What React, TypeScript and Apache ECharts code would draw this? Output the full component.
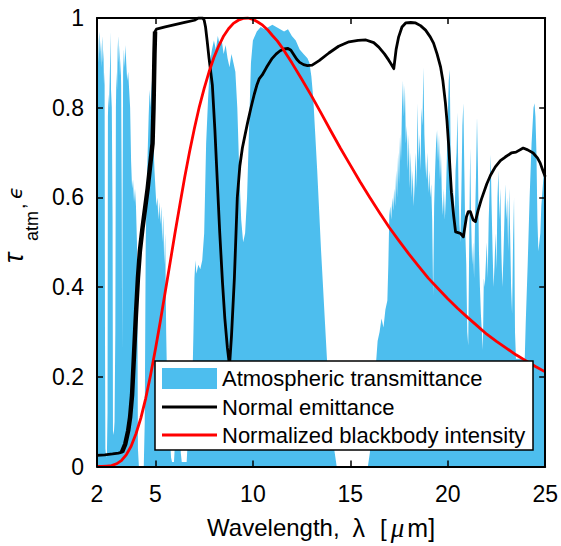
import React, { useEffect, useRef } from "react";
import * as echarts from "echarts";

// ---- data ----
const xTickValues = [2, 5, 10, 15, 20, 25];
const legendLabels = [
  "Atmospheric transmittance",
  "Normal emittance",
  "Normalized blackbody intensity",
];

// [wavelength (um), atmospheric transmittance]
const atmTransmittance: [number, number][] = [
  [2.0, 0.93], [2.03, 0.96], [2.06, 0.9], [2.09, 0.95], [2.12, 0.97], [2.15, 0.92], [2.18, 0.95], [2.21, 0.89],
  [2.24, 0.93], [2.27, 0.96], [2.3, 0.9], [2.33, 0.93], [2.36, 0.85], [2.39, 0.88], [2.41, 0.3], [2.43, 0.04],
  [2.47, 0.02], [2.51, 0.03], [2.54, 0.12], [2.56, 0.78], [2.59, 0.83], [2.62, 0.8], [2.65, 0.86], [2.68, 0.92],
  [2.7, 0.97], [2.72, 0.84], [2.76, 0.8], [2.8, 0.55], [2.82, 0.08], [2.86, 0.07], [2.9, 0.1], [2.94, 0.3],
  [2.97, 0.8], [3.0, 0.88], [3.03, 0.84], [3.06, 0.93], [3.09, 0.96], [3.12, 0.9], [3.15, 0.94], [3.18, 0.87],
  [3.21, 0.91], [3.24, 0.85], [3.27, 0.6], [3.29, 0.26], [3.31, 0.55], [3.34, 0.88], [3.38, 0.93], [3.42, 0.89],
  [3.46, 0.94], [3.5, 0.9], [3.55, 0.86], [3.6, 0.88], [3.65, 0.84], [3.7, 0.8], [3.75, 0.68], [3.8, 0.62],
  [3.85, 0.64], [3.9, 0.59], [3.95, 0.62], [4.0, 0.58], [4.05, 0.5], [4.08, 0.3], [4.1, 0.04], [4.15, 0.0],
  [4.4, 0.0], [4.45, 0.1], [4.5, 0.5], [4.55, 0.62], [4.6, 0.7], [4.65, 0.78], [4.7, 0.84], [4.75, 0.8],
  [4.8, 0.86], [4.85, 0.78], [4.9, 0.72], [4.95, 0.66], [5.0, 0.62], [5.05, 0.58], [5.1, 0.6], [5.15, 0.55],
  [5.2, 0.59], [5.25, 0.54], [5.3, 0.58], [5.35, 0.5], [5.4, 0.56], [5.45, 0.45], [5.5, 0.52], [5.55, 0.3],
  [5.6, 0.18], [5.65, 0.1], [5.7, 0.14], [5.75, 0.06], [5.8, 0.02], [5.85, 0.01], [5.95, 0.01], [6.0, 0.05],
  [6.05, 0.12], [6.1, 0.08], [6.15, 0.16], [6.2, 0.06], [6.25, 0.1], [6.3, 0.03], [6.35, 0.01], [6.6, 0.01],
  [6.65, 0.05], [6.7, 0.12], [6.75, 0.07], [6.8, 0.16], [6.85, 0.1], [6.9, 0.2], [6.95, 0.3], [7.0, 0.42],
  [7.05, 0.46], [7.1, 0.43], [7.2, 0.45], [7.3, 0.44], [7.4, 0.46], [7.5, 0.52], [7.55, 0.62], [7.6, 0.72],
  [7.7, 0.82], [7.8, 0.9], [7.9, 0.93], [8.0, 0.95], [8.1, 0.93], [8.2, 0.96], [8.3, 0.94], [8.4, 0.95],
  [8.5, 0.92], [8.6, 0.94], [8.7, 0.91], [8.8, 0.89], [8.9, 0.92], [9.0, 0.9], [9.1, 0.88], [9.2, 0.8],
  [9.3, 0.66], [9.4, 0.55], [9.5, 0.5], [9.6, 0.52], [9.7, 0.6], [9.8, 0.75], [9.9, 0.9], [10.0, 0.95],
  [10.2, 0.97], [10.4, 0.98], [10.6, 0.975], [10.8, 0.98], [11.0, 0.985], [11.2, 0.98], [11.4, 0.975], [11.6, 0.97],
  [11.8, 0.975], [12.0, 0.96], [12.2, 0.95], [12.4, 0.93], [12.6, 0.92], [12.8, 0.91], [12.9, 0.9], [13.0, 0.87],
  [13.1, 0.82], [13.2, 0.74], [13.3, 0.66], [13.4, 0.57], [13.5, 0.48], [13.6, 0.4], [13.7, 0.32], [13.8, 0.24],
  [13.9, 0.16], [14.0, 0.1], [14.1, 0.06], [14.2, 0.03], [14.3, 0.0], [15.9, 0.0], [16.0, 0.03], [16.1, 0.08],
  [16.2, 0.15], [16.3, 0.22], [16.4, 0.28], [16.5, 0.3], [16.6, 0.33], [16.7, 0.31], [16.8, 0.35], [16.9, 0.37],
  [16.95, 0.45], [17.0, 0.56], [17.05, 0.58], [17.1, 0.55], [17.15, 0.6], [17.2, 0.57], [17.25, 0.62], [17.3, 0.58],
  [17.35, 0.66], [17.4, 0.6], [17.45, 0.7], [17.5, 0.63], [17.55, 0.74], [17.6, 0.68], [17.65, 0.8], [17.7, 0.86],
  [17.75, 0.78], [17.8, 0.85], [17.85, 0.72], [17.9, 0.76], [17.95, 0.66], [18.0, 0.74], [18.05, 0.62], [18.1, 0.7],
  [18.15, 0.6], [18.2, 0.66], [18.25, 0.58], [18.3, 0.63], [18.35, 0.7], [18.4, 0.62], [18.45, 0.81], [18.5, 0.68],
  [18.55, 0.74], [18.6, 0.66], [18.65, 0.8], [18.7, 0.76], [18.75, 0.89], [18.8, 0.74], [18.85, 0.68], [18.9, 0.64],
  [18.95, 0.7], [19.0, 0.61], [19.05, 0.66], [19.1, 0.6], [19.15, 0.63], [19.2, 0.55], [19.25, 0.38], [19.3, 0.58],
  [19.35, 0.66], [19.4, 0.72], [19.45, 0.75], [19.5, 0.68], [19.55, 0.74], [19.6, 0.64], [19.65, 0.7], [19.7, 0.6],
  [19.75, 0.56], [19.8, 0.62], [19.85, 0.55], [19.9, 0.6], [19.95, 0.68], [20.0, 0.78], [20.05, 0.86], [20.1, 0.885],
  [20.15, 0.7], [20.2, 0.6], [20.25, 0.56], [20.3, 0.62], [20.35, 0.55], [20.4, 0.66], [20.45, 0.7], [20.5, 0.79],
  [20.55, 0.62], [20.6, 0.54], [20.65, 0.5], [20.7, 0.62], [20.75, 0.76], [20.8, 0.81], [20.85, 0.66], [20.9, 0.52],
  [20.95, 0.45], [21.0, 0.3], [21.05, 0.27], [21.1, 0.5], [21.15, 0.71], [21.2, 0.55], [21.25, 0.45], [21.3, 0.5],
  [21.35, 0.42], [21.4, 0.55], [21.45, 0.65], [21.5, 0.78], [21.55, 0.66], [21.6, 0.48], [21.65, 0.4], [21.7, 0.34],
  [21.75, 0.3], [21.8, 0.26], [21.85, 0.42], [21.9, 0.4], [22.0, 0.5], [22.05, 0.42], [22.1, 0.55], [22.15, 0.62],
  [22.2, 0.695], [22.25, 0.58], [22.3, 0.48], [22.35, 0.4], [22.4, 0.45], [22.45, 0.52], [22.5, 0.44], [22.55, 0.6],
  [22.6, 0.66], [22.65, 0.55], [22.7, 0.62], [22.75, 0.48], [22.8, 0.4], [22.85, 0.46], [22.9, 0.54], [22.95, 0.63],
  [23.0, 0.55], [23.05, 0.6], [23.1, 0.48], [23.15, 0.62], [23.2, 0.52], [23.25, 0.4], [23.3, 0.34], [23.35, 0.5],
  [23.4, 0.6], [23.45, 0.3], [23.5, 0.24], [23.95, 0.24], [24.0, 0.32], [24.1, 0.45], [24.2, 0.6], [24.3, 0.72],
  [24.4, 0.8], [24.45, 0.81], [24.5, 0.78], [24.55, 0.7], [24.6, 0.55], [24.65, 0.48], [24.7, 0.5], [24.75, 0.52],
  [24.8, 0.58], [24.9, 0.64], [24.95, 0.66], [25.0, 0.62],
];

// [wavelength (um), normal emittance]
const normalEmittance: [number, number][] = [
  [2.0, 0.025], [2.4, 0.026], [2.8, 0.028], [3.1, 0.03], [3.28, 0.032], [3.45, 0.05], [3.6, 0.08], [3.7, 0.11],
  [3.8, 0.16], [3.9, 0.25], [4.0, 0.34], [4.1, 0.42], [4.2, 0.48], [4.33, 0.53], [4.45, 0.57], [4.6, 0.62],
  [4.75, 0.68], [4.85, 0.72], [4.9, 0.8], [4.95, 0.92], [4.98, 0.97], [5.05, 0.975], [5.5, 0.98], [6.0, 0.985],
  [6.5, 0.99], [7.0, 0.995], [7.2, 1.0], [7.42, 1.0], [7.5, 0.995], [7.57, 0.98], [7.65, 0.95], [7.75, 0.91],
  [7.92, 0.85], [8.05, 0.75], [8.18, 0.63], [8.3, 0.52], [8.44, 0.41], [8.56, 0.33], [8.69, 0.265], [8.8, 0.225],
  [8.9, 0.29], [9.05, 0.42], [9.2, 0.6], [9.33, 0.67], [9.46, 0.71], [9.6, 0.74], [9.72, 0.765], [9.9, 0.8],
  [10.07, 0.83], [10.2, 0.85], [10.33, 0.865], [10.48, 0.873], [10.7, 0.89], [10.99, 0.91], [11.2, 0.92], [11.4, 0.927],
  [11.6, 0.931], [11.8, 0.932], [11.95, 0.928], [12.1, 0.918], [12.25, 0.908], [12.4, 0.901], [12.6, 0.896], [12.8, 0.894],
  [13.04, 0.895], [13.4, 0.905], [13.9, 0.922], [14.4, 0.937], [14.93, 0.947], [15.4, 0.95], [15.8, 0.951], [16.2, 0.945],
  [16.46, 0.935], [16.75, 0.92], [16.97, 0.906], [17.1, 0.897], [17.23, 0.887], [17.35, 0.93], [17.48, 0.958], [17.65, 0.98],
  [17.84, 0.989], [18.1, 0.99], [18.35, 0.989], [18.6, 0.983], [18.86, 0.973], [19.1, 0.958], [19.27, 0.944], [19.45, 0.92],
  [19.63, 0.891], [19.75, 0.86], [19.88, 0.81], [19.96, 0.77], [20.04, 0.72], [20.12, 0.66], [20.19, 0.61], [20.3, 0.56],
  [20.4, 0.523], [20.65, 0.52], [20.8, 0.512], [20.96, 0.557], [21.05, 0.568], [21.16, 0.568], [21.3, 0.55], [21.42, 0.546],
  [21.55, 0.57], [21.72, 0.595], [22.0, 0.63], [22.2, 0.65], [22.44, 0.668], [22.7, 0.682], [22.95, 0.69], [23.26, 0.699],
  [23.5, 0.701], [23.87, 0.71], [24.1, 0.706], [24.38, 0.699], [24.6, 0.688], [24.74, 0.677], [24.88, 0.66], [25.0, 0.646],
];

// [wavelength (um), normalized blackbody intensity]
const blackbody: [number, number][] = [
  [2.0, 0.0], [2.25, 0.0001], [2.5, 0.001], [2.75, 0.002], [3.0, 0.006], [3.25, 0.013], [3.5, 0.026], [3.75, 0.045],
  [4.0, 0.073], [4.25, 0.108], [4.5, 0.152], [4.75, 0.204], [5.0, 0.262], [5.25, 0.324], [5.5, 0.389], [5.75, 0.454],
  [6.0, 0.52], [6.25, 0.583], [6.5, 0.645], [6.75, 0.702], [7.0, 0.754], [7.25, 0.802], [7.5, 0.843], [7.75, 0.88],
  [8.0, 0.912], [8.25, 0.938], [8.5, 0.96], [8.75, 0.976], [9.0, 0.988], [9.25, 0.995], [9.5, 0.999], [9.75, 1.0],
  [10.0, 0.997], [10.25, 0.991], [10.5, 0.984], [10.75, 0.974], [11.0, 0.961], [11.25, 0.949], [11.5, 0.934], [11.75, 0.917],
  [12.0, 0.9], [12.5, 0.864], [13.0, 0.827], [13.5, 0.788], [14.0, 0.748], [14.5, 0.709], [15.0, 0.672], [15.5, 0.635],
  [16.0, 0.6], [16.5, 0.566], [17.0, 0.533], [17.5, 0.503], [18.0, 0.474], [18.5, 0.447], [19.0, 0.42], [19.5, 0.397],
  [20.0, 0.374], [20.5, 0.353], [21.0, 0.333], [21.5, 0.314], [22.0, 0.295], [22.5, 0.279], [23.0, 0.264], [23.5, 0.249],
  [24.0, 0.236], [24.5, 0.223], [25.0, 0.211],
];

const FONT = '"Liberation Sans", Arial, Helvetica, sans-serif';
const BLUE = "#4DBEEE";

export default function App() {
  const ref = useRef<HTMLDivElement>(null);

  useEffect(() => {
    if (!ref.current) return;
    const chart = echarts.init(ref.current, undefined, { renderer: "svg" });

    const axisLine = { show: true, onZero: false, lineStyle: { color: "#000", width: 2 } };
    const tick = { show: true, inside: true, length: 6, lineStyle: { color: "#000", width: 1.5 } };

    const noisy = normalEmittance.filter((p) => p[0] >= 3.28 && p[0] <= 4.98);
    const rowY = [378.5, 407.5, 435.5];

    const rt = (extra: any) => ({ fontSize: 24, fontFamily: FONT, color: "#000", lineHeight: 26, ...extra });

    chart.setOption({
      animation: false,
      backgroundColor: "#fff",
      grid: { left: 97, right: 13, top: 18, bottom: 79, containLabel: false },
      xAxis: [
        {
          type: "value",
          min: 2,
          max: 25,
          position: "bottom",
          z: 10,
          axisLine,
          axisTick: { ...tick, customValues: xTickValues },
          axisLabel: {
            show: true,
            customValues: xTickValues,
            color: "#000",
            fontSize: 23,
            lineHeight: 23,
            fontFamily: FONT,
            margin: 16,
          },
          splitLine: { show: false },
          name: "{a|Wavelength,}{l|λ}{b|[}{m|μ}{c|m]}",
          nameLocation: "middle",
          nameGap: 48,
          nameTextStyle: {
            color: "#000",
            fontFamily: FONT,
            fontSize: 24,
            lineHeight: 26,
            rich: {
              a: rt({}),
              l: rt({ fontSize: 25, padding: [0, 15, 0, 13] }),
              b: rt({ padding: [0, 4, 0, 0] }),
              m: rt({ fontSize: 27, fontFamily: '"Liberation Serif", serif', fontStyle: "italic", padding: [0, 3, 0, 0] }),
              c: rt({ fontSize: 25 }),
            },
          },
        },
        {
          type: "value",
          min: 2,
          max: 25,
          position: "top",
          z: 10,
          axisLine,
          axisTick: { ...tick, customValues: xTickValues },
          axisLabel: { show: false },
          splitLine: { show: false },
        },
      ],
      yAxis: [
        {
          type: "value",
          min: 0,
          max: 1,
          interval: 0.2,
          position: "left",
          z: 10,
          axisLine,
          axisTick: tick,
          axisLabel: { color: "#000", fontSize: 23, fontFamily: FONT, margin: 13 },
          splitLine: { show: false },
        },
        {
          type: "value",
          min: 0,
          max: 1,
          interval: 0.2,
          position: "right",
          z: 10,
          axisLine,
          axisTick: tick,
          axisLabel: { show: false },
          splitLine: { show: false },
        },
      ],
      series: [
        {
          name: legendLabels[0],
          type: "line",
          data: atmTransmittance,
          symbol: "none",
          lineStyle: { width: 0 },
          areaStyle: { color: BLUE, opacity: 1 },
          z: 1,
          silent: true,
        },
        {
          name: legendLabels[1],
          type: "line",
          data: normalEmittance,
          symbol: "none",
          smooth: false,
          lineStyle: { color: "#000", width: 2.8, join: "round" },
          z: 3,
          silent: true,
        },
        {
          name: "emittance-noisy",
          type: "line",
          data: noisy,
          symbol: "none",
          lineStyle: { color: "#000", width: 4.5, join: "round" },
          z: 3,
          silent: true,
        },
        {
          name: legendLabels[2],
          type: "line",
          data: blackbody,
          symbol: "none",
          smooth: false,
          lineStyle: { color: "#FF0000", width: 2.8, join: "round" },
          z: 4,
          silent: true,
        },
      ],
      graphic: [
        {
          type: "rect",
          z: 100,
          shape: { x: 155, y: 361, width: 378, height: 89 },
          style: { fill: "#fff", stroke: "#000", lineWidth: 1.5 },
        },
        {
          type: "rect",
          z: 101,
          shape: { x: 162, y: 368, width: 55, height: 21 },
          style: { fill: BLUE },
        },
        {
          type: "line",
          z: 101,
          shape: { x1: 162, y1: 407, x2: 217, y2: 407 },
          style: { stroke: "#000", lineWidth: 3 },
        },
        {
          type: "line",
          z: 101,
          shape: { x1: 162, y1: 435, x2: 217, y2: 435 },
          style: { stroke: "#FF0000", lineWidth: 3 },
        },
        ...legendLabels.map((t, i) => ({
          type: "text",
          z: 101,
          x: 222,
          y: rowY[i],
          style: { text: t, font: `22px ${FONT}`, fill: "#000", textAlign: "left", verticalAlign: "middle" },
        })),
        {
          type: "group",
          x: 22,
          y: 265,
          rotation: Math.PI / 2,
          z: 50,
          children: [
            {
              type: "text",
              x: 2,
              y: -8,
              style: { text: "τ", font: `italic 27px ${FONT}`, fill: "#000", textAlign: "left", verticalAlign: "middle" },
            },
            {
              type: "text",
              x: 24,
              y: 10,
              style: { text: "atm", font: `18px ${FONT}`, fill: "#000", textAlign: "left", verticalAlign: "middle" },
            },
            {
              type: "text",
              x: 56,
              y: -4,
              style: { text: ",", font: `20px ${FONT}`, fill: "#000", textAlign: "left", verticalAlign: "middle" },
            },
            {
              type: "text",
              x: 66,
              y: -7,
              style: { text: "ϵ", font: 'italic 20px "DejaVu Sans", sans-serif', fill: "#000", textAlign: "left", verticalAlign: "middle" },
            },
          ],
        },
      ],
    });

    return () => chart.dispose();
  }, []);

  return (
    <div
      ref={ref}
      style={{ position: "fixed", left: 0, top: 0, width: 561, height: 546, background: "#fff" }}
    />
  );
}
